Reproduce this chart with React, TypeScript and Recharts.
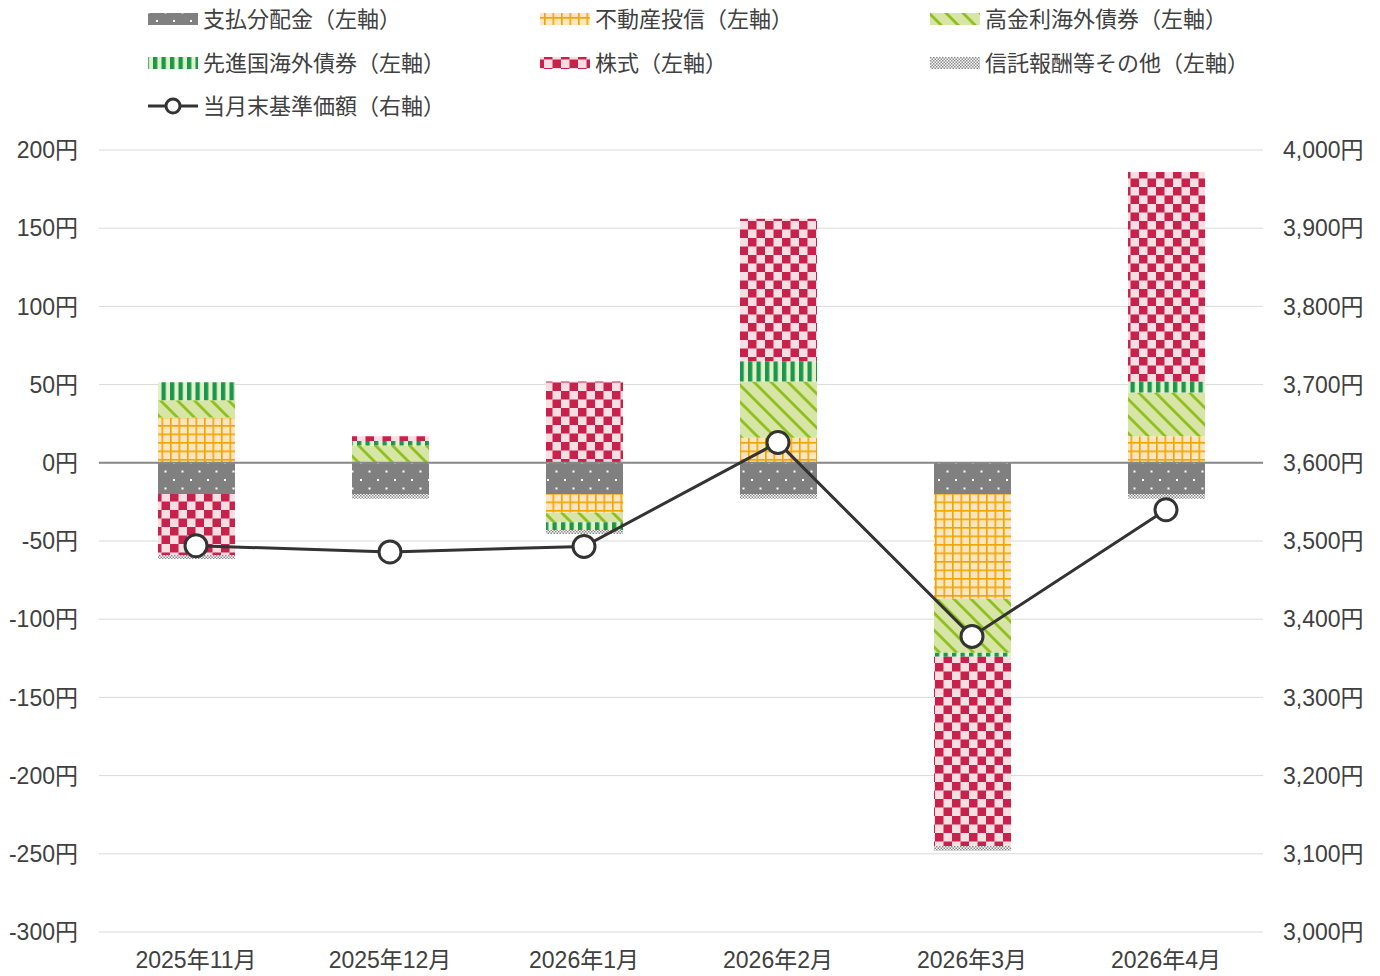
import React from "react";
import { ComposedChart, Bar, Line, XAxis, YAxis, CartesianGrid, ReferenceLine } from "recharts";

const categories = ["2025年11月", "2025年12月", "2026年1月", "2026年2月", "2026年3月", "2026年4月"];
const dividend = [-20, -20, -20, -20, -20, -20];
const reit = [29, 0, -12, 16, -67, 17];
const highYield = [11, 11, -6, 36, -34.5, 28];
const developed = [11.5, 3, -5, 13, -2.5, 7];
const equity = [-39, 3, 52, 91, -121, 134];
const other = [-2.5, -3, -2.5, -3, -3, -3];
const nav = [3494, 3486, 3493, 3626, 3378, 3540];
const leftTicks = [-300, -250, -200, -150, -100, -50, 0, 50, 100, 150, 200];
const rightTicks = [3000, 3100, 3200, 3300, 3400, 3500, 3600, 3700, 3800, 3900, 4000];

const seriesNames = {
  dividend: "支払分配金（左軸）",
  reit: "不動産投信（左軸）",
  highYield: "高金利海外債券（左軸）",
  developed: "先進国海外債券（左軸）",
  equity: "株式（左軸）",
  other: "信託報酬等その他（左軸）",
  nav: "当月末基準価額（右軸）",
};

const data = categories.map((c, i) => ({
  name: c,
  dividend: dividend[i],
  reit: reit[i],
  highYield: highYield[i],
  developed: developed[i],
  equity: equity[i],
  other: other[i],
  nav: nav[i],
}));

const FONT = "'Liberation Sans', Arial, 'Noto Sans CJK JP', sans-serif";
const TEXT = "#404040";

const Patterns = () => (
  <defs>
    <pattern id="pDiv" width="17" height="17" patternUnits="userSpaceOnUse">
      <rect width="17" height="17" fill="#808080" />
      <rect x="3" y="3" width="2" height="2" fill="#ffffff" />
      <rect x="11.5" y="11.5" width="2" height="2" fill="#ffffff" />
    </pattern>
    <pattern id="pReit" width="8.5" height="8.5" patternUnits="userSpaceOnUse">
      <rect width="8.5" height="8.5" fill="#fde5c0" />
      <rect x="0" y="0" width="8.5" height="1.6" fill="#f0a500" />
      <rect x="0" y="0" width="1.6" height="8.5" fill="#f0a500" />
    </pattern>
    <pattern id="pHy" width="17" height="17" patternUnits="userSpaceOnUse">
      <rect width="17" height="17" fill="#d7e6a6" />
      <path d="M-4,0 L0,0 L17,17 L13,17 Z M13,0 L17,0 L34,17 L30,17 Z M-21,0 L-17,0 L0,17 L-4,17 Z" fill="#90c020" />
    </pattern>
    <pattern id="pDev" width="8.5" height="8.5" patternUnits="userSpaceOnUse">
      <rect width="8.5" height="8.5" fill="#e6f0c8" />
      <rect x="0" y="0" width="4.3" height="8.5" fill="#17984e" />
    </pattern>
    <pattern id="pEq" width="17" height="17" patternUnits="userSpaceOnUse">
      <rect width="17" height="17" fill="#f6dfe3" />
      <rect x="0" y="0" width="8.5" height="8.5" fill="#c8224c" />
      <rect x="8.5" y="8.5" width="8.5" height="8.5" fill="#c8224c" />
    </pattern>
    <pattern id="pOth" width="3" height="3" patternUnits="userSpaceOnUse">
      <rect width="3" height="3" fill="#ffffff" />
      <rect x="0" y="0" width="1.5" height="1.5" fill="#8a8a8a" />
      <rect x="1.5" y="1.5" width="1.5" height="1.5" fill="#8a8a8a" />
    </pattern>
  </defs>
);

const legendItems = [
  { key: "dividend", fill: "url(#pDiv)", x: 148, y: 19 },
  { key: "reit", fill: "url(#pReit)", x: 540, y: 19 },
  { key: "highYield", fill: "url(#pHy)", x: 930, y: 19 },
  { key: "developed", fill: "url(#pDev)", x: 148, y: 63 },
  { key: "equity", fill: "url(#pEq)", x: 540, y: 63 },
  { key: "other", fill: "url(#pOth)", x: 930, y: 63 },
];

const LegendSvg = () => (
  <svg width={1380} height={130} style={{ position: "absolute", left: 0, top: 0 }}>
    <Patterns />
    {legendItems.map((it) => (
      <g key={it.key}>
        <rect x={it.x} y={it.y - 6} width={50} height={12} fill={it.fill} />
        <text x={it.x + 55} y={it.y} dominantBaseline="central" fontSize={22} fill={TEXT} fontFamily={FONT}>
          {seriesNames[it.key as keyof typeof seriesNames]}
        </text>
      </g>
    ))}
    <g>
      <line x1={148} x2={198} y1={106} y2={106} stroke="#333333" strokeWidth={3} />
      <circle cx={173} cy={106} r={7} fill="#ffffff" stroke="#333333" strokeWidth={3} />
      <text x={203} y={106} dominantBaseline="central" fontSize={22} fill={TEXT} fontFamily={FONT}>
        {seriesNames.nav}
      </text>
    </g>
  </svg>
);

const fmtLeft = (v: number) => `${v}円`;
const fmtRight = (v: number) => `${v.toLocaleString("en-US")}円`;

const tickStyle = { fontSize: 23, fill: TEXT, fontFamily: FONT };

export default function App() {
  return (
    <div style={{ position: "absolute", left: 0, top: 0, width: 1380, height: 976, background: "#fff" }}>
      <LegendSvg />
      <div style={{ position: "absolute", left: 0, top: 0 }}>
        <ComposedChart
          width={1380}
          height={976}
          data={data}
          stackOffset="sign"
          margin={{ top: 150, right: 0, bottom: 0, left: 0 }}
          barSize={77}
        >
          <CartesianGrid vertical={false} stroke="#d9d9d9" strokeWidth={1} yAxisId="left" />
          <XAxis
            dataKey="name"
            axisLine={false}
            tickLine={false}
            height={44}
            tickMargin={14}
            tick={tickStyle}
            interval={0}
          />
          <YAxis
            yAxisId="left"
            domain={[-300, 200]}
            ticks={leftTicks}
            tickFormatter={fmtLeft}
            axisLine={false}
            tickLine={false}
            width={99}
            tickMargin={15}
            tick={tickStyle}
            allowDataOverflow
          />
          <YAxis
            yAxisId="right"
            orientation="right"
            domain={[3000, 4000]}
            ticks={rightTicks}
            tickFormatter={fmtRight}
            axisLine={false}
            tickLine={false}
            width={117}
            tickMargin={14}
            tick={tickStyle}
            allowDataOverflow
          />
          <ReferenceLine y={0} yAxisId="left" stroke="#888888" strokeWidth={2} />
          <Bar yAxisId="left" dataKey="dividend" stackId="s" fill="url(#pDiv)" isAnimationActive={false} />
          <Bar yAxisId="left" dataKey="reit" stackId="s" fill="url(#pReit)" isAnimationActive={false} />
          <Bar yAxisId="left" dataKey="highYield" stackId="s" fill="url(#pHy)" isAnimationActive={false} />
          <Bar yAxisId="left" dataKey="developed" stackId="s" fill="url(#pDev)" isAnimationActive={false} />
          <Bar yAxisId="left" dataKey="equity" stackId="s" fill="url(#pEq)" isAnimationActive={false} />
          <Bar yAxisId="left" dataKey="other" stackId="s" fill="url(#pOth)" isAnimationActive={false} />
          <Line
            yAxisId="right"
            dataKey="nav"
            stroke="#333333"
            strokeWidth={3}
            dot={{ r: 11, fill: "#ffffff", stroke: "#333333", strokeWidth: 3 }}
            isAnimationActive={false}
          />
        </ComposedChart>
      </div>
    </div>
  );
}
